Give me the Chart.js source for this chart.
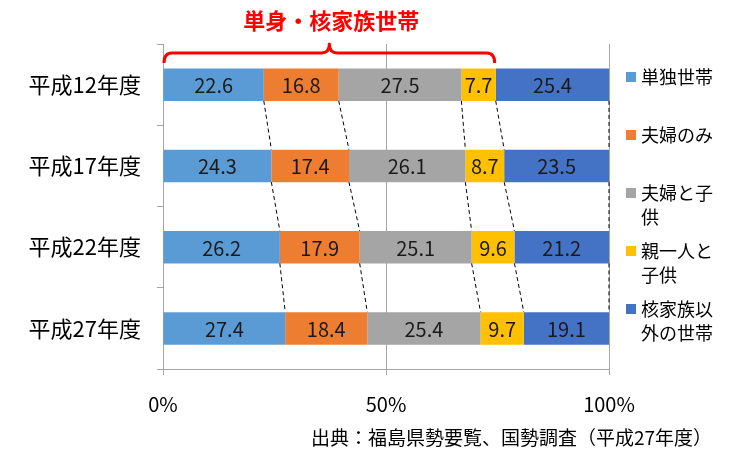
<!DOCTYPE html>
<html>
<head>
<meta charset="utf-8">
<script src="https://cdn.jsdelivr.net/npm/chart.js@4/dist/chart.umd.min.js"></script>
<style>
body { margin: 0; background: #fff; }
#wrap { width: 731px; height: 449px; position: relative; }
</style>
</head>
<body>
<div id="wrap"><canvas id="householdChart"></canvas></div>
<script>
// 世帯構成の割合 (%)
var years = ['平成12年度', '平成17年度', '平成22年度', '平成27年度']
var seriesNames = ['単独世帯', '夫婦のみ', '夫婦と子供', '親一人と子供', '核家族以外の世帯']
var tanshin = [22.6, 24.3, 26.2, 27.4]
var fufuNomi = [16.8, 17.4, 17.9, 18.4]
var fufuKodomo = [27.5, 26.1, 25.1, 25.4]
var hitorioya = [7.7, 8.7, 9.6, 9.7]
var sonota = [25.4, 23.5, 21.2, 19.1]
var xTicks = [0, 50, 100]
var titleText = '単身・核家族世帯'
var sourceText = '出典：福島県勢要覧、国勢調査（平成27年度）'

var colors = ['#5B9BD5', '#ED7D31', '#A5A5A5', '#FFC000', '#4472C4']
var font = "'Noto Sans CJK JP', 'Noto Sans', sans-serif"
var axisGray = '#A6A6A6'

Chart.defaults.font.family = font
Chart.defaults.color = '#000'

var values = [tanshin, fufuNomi, fufuKodomo, hitorioya, sonota]
var datasets = values.map(function (v, i) {
  return {
    label: seriesNames[i],
    data: v,
    backgroundColor: colors[i],
    borderWidth: 0,
    barPercentage: 0.4,
    categoryPercentage: 1
  }
})

function wrapText (ctx, text, maxWidth) {
  var lines = []
  var line = ''
  for (var i = 0; i < text.length; i++) {
    var test = line + text[i]
    if (ctx.measureText(test).width > maxWidth && line) {
      lines.push(line)
      line = text[i]
    } else {
      line = test
    }
  }
  lines.push(line)
  return lines
}

var overlay = {
  id: 'overlay',
  afterDatasetsDraw: function (chart) {
    var ctx = chart.ctx
    ctx.save()
    // 系列線 (dashed)
    ctx.strokeStyle = '#000'
    ctx.lineWidth = 1
    ctx.setLineDash([4, 3])
    chart.data.datasets.forEach(function (ds, i) {
      var bars = chart.getDatasetMeta(i).data
      for (var j = 0; j < bars.length - 1; j++) {
        var a = bars[j], b = bars[j + 1]
        ctx.beginPath()
        ctx.moveTo(a.x, a.y + a.height / 2)
        ctx.lineTo(b.x, b.y - b.height / 2)
        ctx.stroke()
      }
    })
    ctx.setLineDash([])
    // data labels
    ctx.font = '20px ' + font
    ctx.fillStyle = '#1a1a1a'
    ctx.textAlign = 'center'
    ctx.textBaseline = 'middle'
    chart.data.datasets.forEach(function (ds, i) {
      chart.getDatasetMeta(i).data.forEach(function (bar, j) {
        ctx.fillText(ds.data[j].toFixed(1), (bar.x + bar.base) / 2, bar.y + 1)
      })
    })
    ctx.restore()
  },
  afterDraw: function (chart) {
    var ctx = chart.ctx
    var area = chart.chartArea
    var xs = chart.scales.x
    ctx.save()

    // legend
    ctx.font = '18px ' + font
    ctx.textAlign = 'left'
    ctx.textBaseline = 'middle'
    var lx = area.right + 17
    chart.data.datasets.forEach(function (ds, i) {
      var y = 77 + i * 58
      ctx.fillStyle = ds.backgroundColor
      ctx.fillRect(lx, y - 5, 10, 10)
      ctx.fillStyle = '#000'
      wrapText(ctx, ds.label, 80).forEach(function (line, k) {
        ctx.fillText(line, lx + 15, y + k * 24)
      })
    })

    // bracket over 単身・核家族世帯 (first four series, first row)
    var endVal = 0
    for (var i = 0; i < 4; i++) endVal += values[i][0]
    var x0 = xs.getPixelForValue(0)
    var x1 = xs.getPixelForValue(endVal)
    var mid = (x0 + x1) / 2
    var yl = 53
    ctx.strokeStyle = '#FF0000'
    ctx.lineWidth = 3
    ctx.lineJoin = 'round'
    ctx.beginPath()
    ctx.moveTo(x0 + 1, 63)
    ctx.quadraticCurveTo(x0 + 1, yl, x0 + 9, yl)
    ctx.lineTo(mid - 8, yl)
    ctx.quadraticCurveTo(mid, yl, mid, 44)
    ctx.quadraticCurveTo(mid, yl, mid + 8, yl)
    ctx.lineTo(x1 - 9, yl)
    ctx.quadraticCurveTo(x1 - 1, yl, x1 - 1, 63)
    ctx.stroke()

    ctx.fillStyle = '#FF0000'
    ctx.font = 'bold 22px ' + font
    ctx.textAlign = 'center'
    ctx.fillText(titleText, mid + 2, 21)

    // source
    ctx.fillStyle = '#000'
    ctx.font = '19px ' + font
    ctx.textAlign = 'right'
    ctx.fillText(sourceText, 712, 438)
    ctx.restore()
  }
}

var householdChart = new Chart(document.getElementById('householdChart'), {
  type: 'bar',
  data: { labels: years, datasets: datasets },
  options: {
    indexAxis: 'y',
    responsive: true,
    maintainAspectRatio: false,
    animation: false,
    layout: { padding: { left: 0, right: 122, top: 44, bottom: 0 } },
    plugins: {
      legend: { display: false },
      tooltip: { enabled: false }
    },
    scales: {
      x: {
        stacked: true,
        min: 0,
        max: 100,
        afterBuildTicks: function (scale) {
          scale.ticks = xTicks.map(function (v) { return { value: v } })
        },
        afterFit: function (scale) { scale.height = 80 },
        border: { color: axisGray, width: 1 },
        grid: { color: axisGray, tickLength: 6, lineWidth: 1 },
        ticks: {
          padding: 17,
          font: { size: 20 },
          color: '#000',
          callback: function (v) { return v + '%' }
        }
      },
      y: {
        stacked: true,
        afterFit: function (scale) { scale.width = 163 },
        border: { color: axisGray, width: 1 },
        grid: { offset: true, drawOnChartArea: false, color: axisGray, tickLength: 6 },
        ticks: { padding: 16, font: { size: 22 }, color: '#000' }
      }
    }
  },
  plugins: [overlay]
})
</script>
</body>
</html>
